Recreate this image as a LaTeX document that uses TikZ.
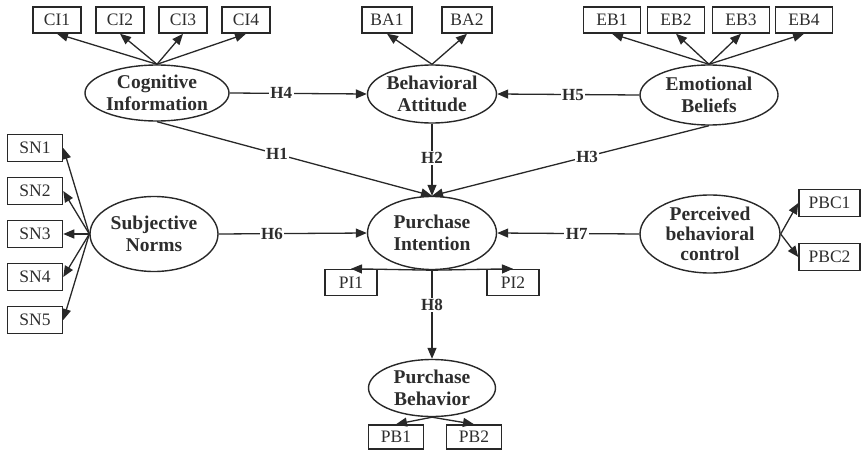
\documentclass[tikz,border=0pt]{standalone}
\usepackage{fontspec}
\setmainfont{Liberation Serif}
\usetikzlibrary{arrows.meta,shapes.geometric}
\definecolor{lc}{RGB}{40,40,40}
\definecolor{tc}{RGB}{45,45,45}
\tikzset{
  latent/.style={ellipse,draw=lc,line width=1.4pt,inner sep=0pt,align=center,text=tc,
    font=\fontsize{19.5}{21.5}\selectfont\bfseries},
  ind/.style={rectangle,draw=lc,line width=1.5pt,inner sep=0pt,text=tc,
    font=\fontsize{17.5}{19}\selectfont},
  conn/.style={draw=lc,line width=1.3pt,-{Triangle[length=11pt,width=9pt]}},
  lab/.style={fill=white,inner sep=1.5pt,text=tc,font=\fontsize{17}{18}\selectfont\bfseries}
}
\begin{document}
\begin{tikzpicture}[x=1pt,y=-1pt]
\useasboundingbox (0,0) rectangle (861,452);
% latent variables
\node[latent,minimum width=131pt,minimum height=56pt] (ci) at (157,93) {Cognitive\\Information};
\node[latent,minimum width=129pt,minimum height=58pt] (ba) at (432,94) {Behavioral\\Attitude};
\node[latent,minimum width=138pt,minimum height=60pt] (eb) at (709,95) {Emotional\\Beliefs};
\node[latent,minimum width=128pt,minimum height=75pt] (sn) at (154,234) {Subjective\\Norms};
\node[latent,minimum width=129pt,minimum height=73pt] (pi) at (432,233) {Purchase\\Intention};
\node[latent,minimum width=140pt,minimum height=78pt,font=\fontsize{19.5}{20}\selectfont\bfseries] (pbc) at (710,234) {Perceived\\behavioral\\control};
\node[latent,minimum width=127pt,minimum height=57pt] (pb) at (432,388) {Purchase\\Behavior};
% indicators
\foreach \n/\x in {1/57,2/120,3/183,4/246}
  \node[ind,minimum width=48pt,minimum height=26pt] (ci\n) at (\x,20) {CI\n};
\foreach \n/\x in {1/387,2/467}
  \node[ind,minimum width=50pt,minimum height=26pt] (ba\n) at (\x,20) {BA\n};
\foreach \n/\x in {1/612,2/676,3/741,4/804}
  \node[ind,minimum width=57pt,minimum height=26pt] (eb\n) at (\x,20) {EB\n};
\foreach \n/\y in {1/148,2/191,3/234,4/277,5/320}
  \node[ind,minimum width=55pt,minimum height=27pt] (sn\n) at (35,\y) {SN\n};
\node[ind,minimum width=52pt,minimum height=26pt] (pi1) at (351,282.5) {PI1};
\node[ind,minimum width=52pt,minimum height=26pt] (pi2) at (513,282.5) {PI2};
\node[ind,minimum width=55pt,minimum height=24pt] (pb1) at (396,437) {PB1};
\node[ind,minimum width=55pt,minimum height=24pt] (pb2) at (474,437) {PB2};
\node[ind,minimum width=61pt,minimum height=27pt] (pbc1) at (829.5,203) {PBC1};
\node[ind,minimum width=61pt,minimum height=27pt] (pbc2) at (829.5,257) {PBC2};
% measurement arrows
\foreach \n in {1,2,3,4} \draw[conn] (ci.north) -- (ci\n.south);
\foreach \n in {1,2} \draw[conn] (ba.north) -- (ba\n.south);
\foreach \n in {1,2,3,4} \draw[conn] (eb.north) -- (eb\n.south);
\foreach \n in {1,2,3,4,5} \draw[conn] (sn.west) -- (sn\n.east);
\foreach \n in {1,2} \draw[conn] (pi.south) -- (pi\n.north);
\foreach \n in {1,2} \draw[conn] (pb.south) -- (pb\n.north);
\foreach \n in {1,2} \draw[conn] (pbc.east) -- (pbc\n.west);
% structural paths
\draw[conn] (ci.east) -- node[lab,pos=0.376] {H4} (ba.west);
\draw[conn] (eb.west) -- node[lab,pos=0.467] {H5} (ba.east);
\draw[conn] (ci.south) -- node[lab,pos=0.436] {H1} (pi.north);
\draw[conn] (ba.south) -- node[lab,pos=0.476] {H2} (pi.north);
\draw[conn] (eb.south) -- node[lab,pos=0.44] {H3} (pi.north);
\draw[conn] (sn.east) -- node[lab,pos=0.36] {H6} (pi.west);
\draw[conn] (pbc.west) -- node[lab,pos=0.44] {H7} (pi.east);
\draw[conn] (pi.south) -- node[lab,pos=0.39] {H8} (pb.north);
\end{tikzpicture}
\end{document}
